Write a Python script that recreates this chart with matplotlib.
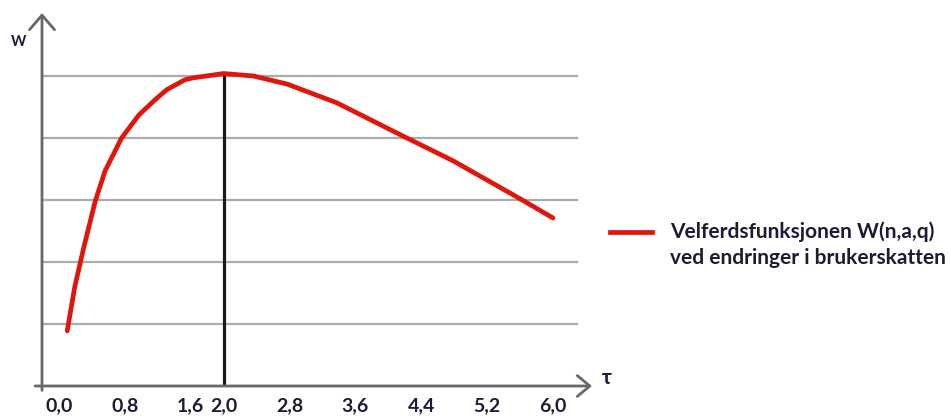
import matplotlib.pyplot as plt
from matplotlib.lines import Line2D

# welfare W as a function of the user tax tau
tau = [0.10, 0.19, 0.30, 0.44, 0.56, 0.76, 0.97, 1.17, 1.31, 1.53, 1.63, 2.0,
       2.36, 2.77, 3.37, 4.18, 4.79, 5.60, 6.0]
welfare = [0.89, 1.59, 2.23, 2.98, 3.47, 4.00, 4.37, 4.62, 4.78, 4.94, 4.97, 5.04,
           5.00, 4.87, 4.57, 4.03, 3.63, 3.02, 2.71]

tick_values = [0.0, 0.8, 1.6, 2.0, 2.8, 3.6, 4.4, 5.2, 6.0]
tick_labels = ['0,0', '0,8', '1,6', '2,0', '2,8', '3,6', '4,4', '5,2', '6,0']
grid_levels = [1, 2, 3, 4, 5]
tau_opt = 2.0
w_opt = 5.04

legend_lines = ['Velferdsfunksjonen W(n,a,q)', 'ved endringer i brukerskatten']

plt.rcParams['font.family'] = ['Lato', 'DejaVu Sans']
text_color = '#1e1b36'
red = '#e0160d'

W, H = 950, 419
fig = plt.figure(figsize=(W / 100, H / 100), dpi=100)
ax = fig.add_axes([42 / W, (H - 386) / H, (592 - 42) / W, (386 - 13) / H])
x0, x1 = -0.2065, 6.474
ax.set_xlim(x0, x1)
ax.set_ylim(0, 6.016)
for s in ax.spines.values():
    s.set_visible(False)

# horizontal grid lines
for g in grid_levels:
    ax.plot([x0, 6.29], [g, g], color='#a9a9b0', lw=1.6, zorder=1)

# axes with open arrow heads
axis_color = '#68686c'
ax.annotate('', xy=(x1, 0), xytext=(-0.29, 0),
            arrowprops=dict(arrowstyle='->,head_length=0.9,head_width=0.75',
                            color=axis_color, lw=2.0, shrinkA=0, shrinkB=0),
            annotation_clip=False)
ax.annotate('', xy=(x0, 6.016), xytext=(x0, -0.07),
            arrowprops=dict(arrowstyle='->,head_length=1.05,head_width=0.9',
                            color=axis_color, lw=2.0, shrinkA=0, shrinkB=0),
            annotation_clip=False)

# vertical line at the optimum
ax.plot([tau_opt, tau_opt], [0, w_opt], color='#1a1a1a', lw=2.3, zorder=2)

ax.plot(tau, welfare, color=red, lw=3.4, zorder=3, solid_capstyle='round')

ax.set_xticks(tick_values)
ax.set_xticklabels(tick_labels, fontsize=14, fontweight='bold', color=text_color)
ax.tick_params(axis='x', length=0, pad=8)
ax.set_yticks([])

fig.text(19 / W, 1 - 42 / H, 'W', fontsize=10.5, fontweight='bold',
         color=text_color, ha='center', va='center')
fig.text(607 / W, 1 - 378 / H, 'τ', fontsize=15, fontweight='bold',
         color=text_color, ha='center', va='center')

# legend drawn by hand so the sample sits beside the first line
fig.add_artist(Line2D([610 / W, 652 / W], [1 - 232 / H, 1 - 232 / H],
                      color=red, lw=3.4))
for i, txt in enumerate(legend_lines):
    fig.text(670 / W, 1 - (232 + 26 * i) / H, txt, fontsize=15,
             fontweight='bold', color=text_color, ha='left', va='center')

fig.savefig('out.png', dpi=100)
